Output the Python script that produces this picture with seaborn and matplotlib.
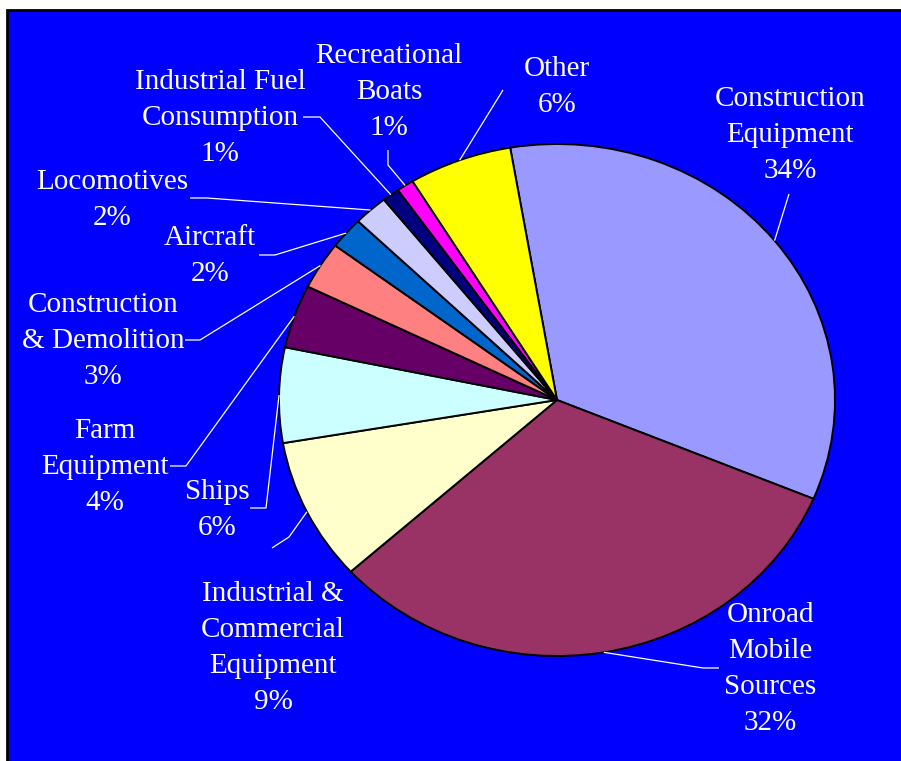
import numpy as np
import matplotlib
matplotlib.use("Agg")
import matplotlib.pyplot as plt
import seaborn as sns
from matplotlib.patches import Rectangle

# data
sources = ["Construction\nEquipment", "Onroad\nMobile\nSources",
           "Industrial &\nCommercial\nEquipment", "Ships", "Farm\nEquipment",
           "Construction\n& Demolition", "Aircraft", "Locomotives",
           "Industrial Fuel\nConsumption", "Recreational\nBoats", "Other"]
shares = [34, 32, 9, 6, 4, 3, 2, 2, 1, 1, 6]
colors = ["#9999FF", "#993366", "#FFFFCC", "#CCFFFF", "#660066", "#FF8080",
          "#0066CC", "#CCCCFF", "#000080", "#FF00FF", "#FFFF00"]

# label layout in image pixels: text centre, end of leader line, elbow
label_pos = [(790, 135), (770, 669), (273, 648), (217, 510), (105, 467),
             (103, 341), (210, 256), (112, 200), (220, 118), (389, 92), (557, 87)]
line_end = [(789, 194), (719, 668), (272, 548), (250, 508), (170, 466),
            (185, 340), (259, 255), (190, 198), (303, 117), (388, 150), (503, 90)]
line_elbow = [(789, 194), (703, 668), (289, 537), (266, 508), (186, 466),
              (200, 340), (275, 255), (207, 198), (320, 117), (388, 165), (503, 90)]

sns.set_style("white")
plt.rcParams["font.family"] = ["Liberation Serif", "DejaVu Serif"]

W, H = 901, 761
fig = plt.figure(figsize=(W / 100, H / 100), dpi=100, facecolor="white")

# blue chart area with dark border
fig.patches.append(Rectangle((6.5 / W, -0.02), 1.05, (H - 9.5) / H + 0.02,
                             transform=fig.transFigure, facecolor="#0000FF",
                             edgecolor="black", linewidth=2, zorder=-5))

# pie axes (slightly elliptical, like the original)
cx, cy, rx, ry = 557, 400, 278, 256
ax = fig.add_axes([(cx - rx) / W, (H - cy - ry) / H, 2 * rx / W, 2 * ry / H])
ax.patch.set_alpha(0)
wedges, _ = ax.pie(shares, colors=sns.color_palette(colors), startangle=99.7,
                   counterclock=False, radius=1,
                   wedgeprops=dict(edgecolor="black", linewidth=1.4))
ax.set_aspect("auto")
ax.set_xlim(-1, 1)
ax.set_ylim(-1, 1)
ax.axis("off")

# overlay for labels in image pixel coordinates
ov = fig.add_axes([0, 0, 1, 1])
ov.patch.set_alpha(0)
ov.set_xlim(0, W)
ov.set_ylim(H, 0)
ov.axis("off")

for w, name, pct, lp, le, lb in zip(wedges, sources, shares, label_pos, line_end, line_elbow):
    mid = np.deg2rad((w.theta1 + w.theta2) / 2)
    disp = ax.transData.transform((np.cos(mid), np.sin(mid)))
    ax_pt = ov.transData.inverted().transform(disp)
    ov.plot([ax_pt[0], lb[0], le[0]], [ax_pt[1], lb[1], le[1]],
            color="white", lw=0.9, solid_capstyle="butt")
    ov.text(lp[0], lp[1], f"{name}\n{pct}%", color="white", fontsize=21,
            ha="center", va="center", multialignment="center", linespacing=1.5)

fig.savefig("out.png", dpi=100, facecolor=fig.get_facecolor())
